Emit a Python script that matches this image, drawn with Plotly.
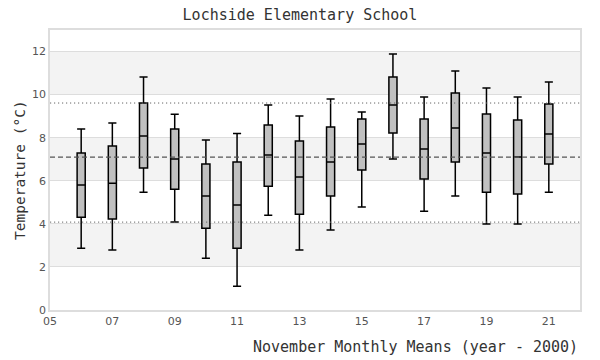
import plotly.graph_objects as go

years = [6, 7, 8, 9, 10, 11, 12, 13, 14, 15, 16, 17, 18, 19, 20, 21]
lower = [2.87, 2.78, 5.47, 4.08, 2.40, 1.10, 4.40, 2.78, 3.71, 4.78, 7.01, 4.59, 5.29, 3.99, 3.99, 5.47]
q1 = [4.31, 4.22, 6.59, 5.61, 3.80, 2.87, 5.75, 4.45, 5.29, 6.50, 8.22, 6.08, 6.87, 5.47, 5.38, 6.78]
median = [5.80, 5.89, 8.08, 7.01, 5.29, 4.87, 7.20, 6.17, 6.87, 7.71, 9.52, 7.47, 8.45, 7.29, 7.10, 8.17]
q3 = [7.29, 7.61, 9.61, 8.40, 6.78, 6.87, 8.59, 7.85, 8.50, 8.87, 10.82, 8.87, 10.08, 9.10, 8.82, 9.57]
upper = [8.40, 8.68, 10.82, 9.09, 7.89, 8.20, 9.52, 9.01, 9.80, 9.19, 11.89, 9.89, 11.10, 10.31, 9.89, 10.59]

overall_mean = 7.10
band_high = 9.61
band_low = 4.08

x_range = [5, 22]
x_tickvals = [5, 7, 9, 11, 13, 15, 17, 19, 21]
x_ticktext = ["05", "07", "09", "11", "13", "15", "17", "19", "21"]
y_tickvals = [0, 2, 4, 6, 8, 10, 12]
shaded_bands = [(2, 4), (6, 8), (10, 12)]

mono = "DejaVu Sans Mono"
sans = "DejaVu Sans"

fig = go.Figure()
# reference lines (drawn first so boxes sit on top)
fig.add_trace(go.Scatter(x=x_range, y=[overall_mean, overall_mean], mode="lines",
                         line=dict(color="#555555", width=1.2, dash="5px,3px"),
                         showlegend=False, hoverinfo="skip"))
for v in (band_high, band_low):
    fig.add_trace(go.Scatter(x=x_range, y=[v, v], mode="lines",
                             line=dict(color="#666666", width=1, dash="1.2px,2.8px"),
                             showlegend=False, hoverinfo="skip"))

fig.add_trace(go.Box(
    x=years, q1=q1, median=median, q3=q3,
    lowerfence=lower, upperfence=upper,
    width=0.26, whiskerwidth=1,
    fillcolor="#c0c0c0",
    line=dict(color="black", width=1.5),
    boxpoints=False, showlegend=False,
))

shapes = []
for lo, hi in shaded_bands:
    shapes.append(dict(type="rect", xref="x domain", yref="y", x0=0, x1=1, y0=lo, y1=hi,
                       fillcolor="#f3f3f3", line=dict(width=0), layer="below"))

fig.update_layout(
    width=600, height=360,
    margin=dict(l=50, r=20, t=30, b=50, autoexpand=False),
    paper_bgcolor="white", plot_bgcolor="white",
    shapes=shapes,
    title=dict(text="Lochside Elementary School", x=0.5, xref="container", xanchor="center",
               y=1 - 15 / 360, yanchor="middle",
               font=dict(family=mono, size=15, color="#333333")),
    xaxis=dict(range=x_range, tickvals=x_tickvals, ticktext=x_ticktext,
               showgrid=False, zeroline=False, showline=True, mirror=True,
               linecolor="#dddddd", linewidth=1.5, ticks="", automargin=False,
               tickfont=dict(family=sans, size=11, color="#555555")),
    yaxis=dict(range=[0, 13], tickvals=y_tickvals, showgrid=True, gridcolor="#dddddd",
               gridwidth=1, zeroline=False, showline=True, mirror=True,
               linecolor="#dddddd", linewidth=1.5, ticks="", automargin=False,
               tickfont=dict(family=sans, size=11, color="#555555")),
    annotations=[
        dict(text="Temperature (°C)", xref="paper", yref="paper", x=0, y=0.5,
             xanchor="center", yanchor="middle", xshift=-30, textangle=-90, showarrow=False,
             font=dict(family=mono, size=14.5, color="#333333")),
        dict(text="November Monthly Means (year - 2000)", xref="paper", yref="paper", x=1, y=0,
             xanchor="right", yanchor="middle", yshift=-37, showarrow=False,
             font=dict(family=mono, size=15, color="#333333")),
    ],
)

fig.write_html("out.html", config={"displayModeBar": False},
               post_script="document.body.style.margin='0';document.body.style.overflow='hidden';")
